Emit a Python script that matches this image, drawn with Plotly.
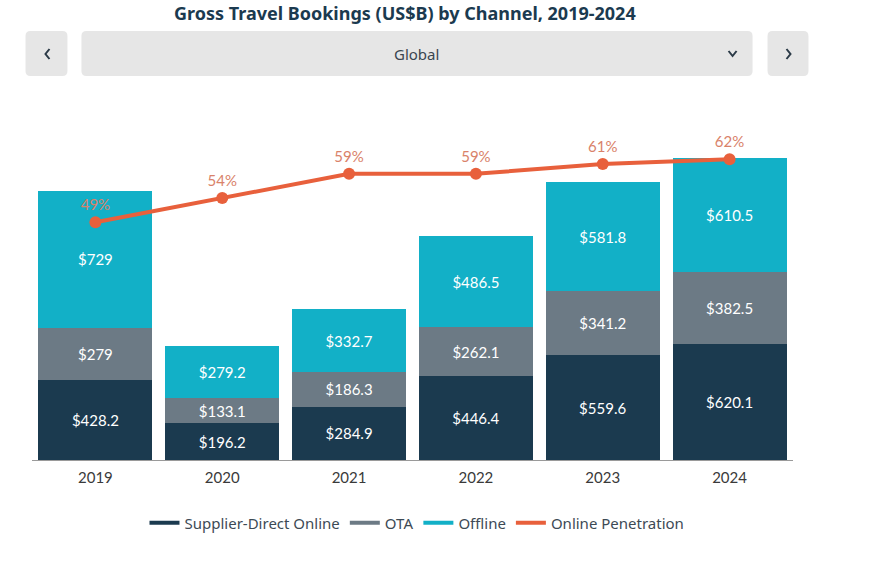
import plotly.graph_objects as go

years = ["2019", "2020", "2021", "2022", "2023", "2024"]
supplier_direct = [428.2, 196.2, 284.9, 446.4, 559.6, 620.1]
ota = [279, 133.1, 186.3, 262.1, 341.2, 382.5]
offline = [729, 279.2, 332.7, 486.5, 581.8, 610.5]
penetration = [49, 54, 59, 59, 61, 62]

C_SUP = "#1b3a4f"
C_OTA = "#6c7a85"
C_OFF = "#12b0c7"
C_PEN = "#e8603c"

OFF = 0  # body margin removed via post_script
W, H = 881 - OFF, 567 - OFF
L, R, T, B = 31.5 - OFF, 87.5, 100 - OFF, 107
PW, PH = W - L - R, H - T - B


def px(x):
    return (x - OFF - L) / PW


def py(y):
    return (H - B - (y - OFF)) / PH


def rrect(x0, y0, x1, y1, r=5):
    rx, ry = r / PW, r / PH
    a0, a1 = px(x0), px(x1)
    b0, b1 = py(y1), py(y0)  # bottom, top
    return (f"M{a0+rx},{b0} L{a1-rx},{b0} Q{a1},{b0} {a1},{b0+ry} "
            f"L{a1},{b1-ry} Q{a1},{b1} {a1-rx},{b1} L{a0+rx},{b1} "
            f"Q{a0},{b1} {a0},{b1-ry} L{a0},{b0+ry} Q{a0},{b0} {a0+rx},{b0} Z")


def fmt(v):
    return "$" + (f"{v:.1f}" if v != int(v) else f"{int(v)}")


fig = go.Figure()
for name, vals, col in [("Supplier-Direct Online", supplier_direct, C_SUP),
                        ("OTA", ota, C_OTA),
                        ("Offline", offline, C_OFF)]:
    fig.add_trace(go.Bar(
        x=years, y=vals, name=name, marker=dict(color=col, line=dict(width=0)),
        text=[fmt(v) for v in vals], textposition="inside",
        insidetextanchor="middle", textangle=0,
        textfont=dict(color="white", size=15, family="Lato"),
        showlegend=False, hoverinfo="skip"))

fig.add_trace(go.Scatter(
    x=years, y=penetration, yaxis="y2", mode="lines+markers+text",
    line=dict(color=C_PEN, width=4), marker=dict(color=C_PEN, size=12),
    text=[f"{p}%" for p in penetration], textposition="top center",
    textfont=dict(color="#d9826a", size=15, family="Lato"),
    showlegend=False, hoverinfo="skip"))

# legend entries drawn as short lines
for name, col in [("Supplier-Direct Online", C_SUP), ("OTA", C_OTA),
                  ("Offline", C_OFF), ("Online Penetration", C_PEN)]:
    fig.add_trace(go.Scatter(x=[None], y=[None], mode="lines", name=name,
                             line=dict(color=col, width=4)))

shapes = [
    dict(type="path", xref="paper", yref="paper", path=rrect(25, 31, 67, 76),
         fillcolor="#e6e6e6", line=dict(width=0), layer="below"),
    dict(type="path", xref="paper", yref="paper", path=rrect(81, 31, 753, 76),
         fillcolor="#e6e6e6", line=dict(width=0), layer="below"),
    dict(type="path", xref="paper", yref="paper", path=rrect(768, 31, 809, 76),
         fillcolor="#e6e6e6", line=dict(width=0), layer="below"),
    # chevrons
    dict(type="path", xref="paper", yref="paper",
         path=f"M{px(49)},{py(49)} L{px(45)},{py(54)} L{px(49)},{py(59)}",
         line=dict(color="#2b3a47", width=2)),
    dict(type="path", xref="paper", yref="paper",
         path=f"M{px(787)},{py(49)} L{px(791)},{py(54)} L{px(787)},{py(59)}",
         line=dict(color="#2b3a47", width=2)),
    dict(type="path", xref="paper", yref="paper",
         path=f"M{px(729)},{py(51)} L{px(733)},{py(56)} L{px(737)},{py(51)}",
         line=dict(color="#2b3a47", width=2)),
]

fig.update_layout(
    width=W, height=H,
    margin=dict(l=L, r=R, t=T, b=B),
    paper_bgcolor="white", plot_bgcolor="white",
    barmode="stack", bargap=0.1,
    xaxis=dict(showgrid=False, showline=True, linecolor="#9a9a9a", linewidth=1,
               ticks="", ticklabelstandoff=4,
               tickfont=dict(family="Lato", size=15, color="#3a3a3a"),
               fixedrange=True),
    yaxis=dict(range=[0, 1922], visible=False, fixedrange=True),
    yaxis2=dict(range=[0, 74.2], overlaying="y", visible=False, fixedrange=True),
    legend=dict(orientation="h", traceorder="normal", x=px(417), xanchor="center",
                y=py(523), yanchor="middle",
                font=dict(family="Noto Sans", size=15, color="#3d4a55"),
                itemwidth=30, tracegroupgap=0),
    shapes=shapes,
    annotations=[
        dict(text="<b>Gross Travel Bookings (US$B) by Channel, 2019-2024</b>",
             x=px(405), y=py(13), xref="paper", yref="paper",
             xanchor="center", yanchor="middle", showarrow=False,
             font=dict(family="Noto Sans", size=18, color="#1b3a4f")),
        dict(text="Global", x=px(417), y=py(54), xref="paper", yref="paper",
             xanchor="center", yanchor="middle", showarrow=False,
             font=dict(family="Noto Sans", size=15, color="#3a4550")),
    ],
)

fig.write_html(
    "out.html",
    config={"displayModeBar": False},
    post_script="document.body.style.margin='0px';document.body.style.overflow='hidden';",
)
